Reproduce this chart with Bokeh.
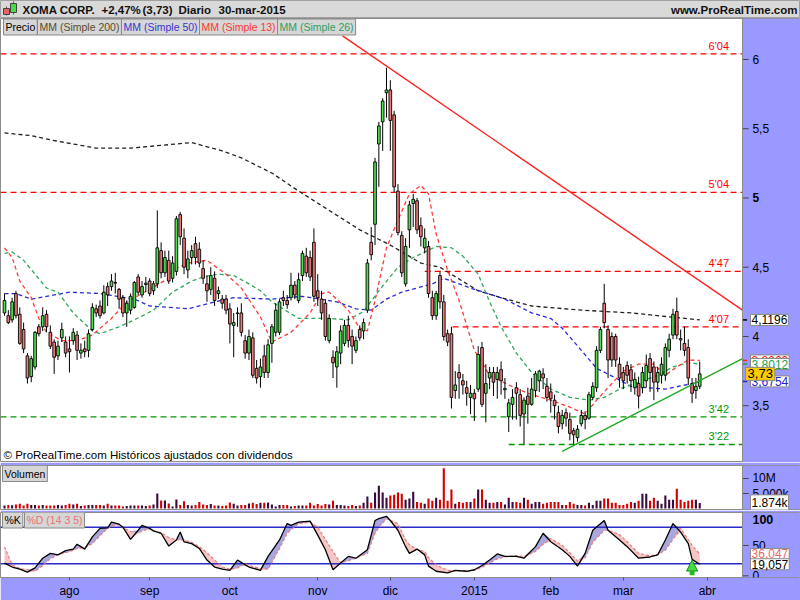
import numpy as np
import pandas as pd
from bokeh.plotting import figure
from bokeh.layouts import column
from bokeh.models import (Range1d, FixedTicker, Span, Label, ColumnDataSource, Arrow, NormalHead,
                          BoxAnnotation)
from bokeh.core.properties import value
from bokeh.embed import file_html
from bokeh.resources import INLINE

FONT = "Liberation Sans"

# ------------------------------------------------------------------ data
ticker_name = "XOMA CORP."
last_change = "+2,47%"
last_price_txt = "(3,73)"
period_txt = "Diario"
date_txt = "30-mar-2015"
site_txt = "www.ProRealTime.com"

first_day = "2014-07-09"
calendar_end = "2015-04-01"
market_holidays = ["2014-09-01", "2014-11-27", "2014-12-25", "2015-01-01", "2015-01-19", "2015-02-16"]
month_labels = ["ago", "sep", "oct", "nov", "dic", "2015", "feb", "mar", "abr"]

opens = [
    4.17, 4.15, 4.12, 4.31, 4.16, 4.05, 3.86, 3.71, 3.78, 4.07,
    4.07, 4.16, 4.03, 3.96, 3.86, 3.99, 3.96, 3.91, 3.97, 4.01,
    3.88, 3.91, 3.90, 4.05, 4.20, 4.22, 4.17, 4.36, 4.36, 4.39,
    4.34, 4.28, 4.17, 4.19, 4.21, 4.43, 4.30, 4.375, 4.40, 4.33,
    4.38, 4.62, 4.46, 4.55, 4.42, 4.47, 4.88, 4.71, 4.48, 4.57,
    4.67, 4.63, 4.49, 4.38, 4.34, 4.42, 4.31, 4.27, 4.27, 4.20,
    4.08, 4.165, 4.17, 3.97, 3.88, 3.99, 3.77, 3.71, 3.86, 3.74,
    3.95, 4.03, 4.03, 4.28, 4.26, 4.28, 4.37, 4.26, 4.44, 4.58,
    4.57, 4.68, 4.33, 4.27, 4.24, 3.97, 3.85, 3.78, 3.88, 3.95,
    4.08, 4.00, 3.90, 4.05, 4.04, 4.19, 4.68, 4.81, 5.39, 5.55,
    5.76, 5.78, 5.60, 5.05, 4.73, 4.38, 4.77, 4.96, 4.98, 4.80,
    4.64, 4.65, 4.28, 4.15, 4.44, 4.25, 4.02, 4.02, 3.61, 3.74,
    3.68, 3.63, 3.56, 3.59, 3.62, 3.92, 3.59, 3.70, 3.74, 3.69,
    3.76, 3.615, 3.42, 3.51, 3.63, 3.58, 3.44, 3.57, 3.51, 3.61,
    3.68, 3.73, 3.64, 3.60, 3.54, 3.45, 3.37, 3.45, 3.40, 3.32,
    3.27, 3.37, 3.43, 3.41, 3.56, 3.63, 3.90, 4.24, 4.05, 4.00,
    4.00, 3.80, 3.74, 3.79, 3.76, 3.63, 3.66, 3.63, 3.68, 3.84,
    3.78, 3.67, 3.72, 3.72, 3.90, 4.01, 4.18, 3.985, 3.95, 3.92,
    3.66, 3.61, 3.64]
highs = [
    4.31, 4.19, 4.28, 4.33, 4.21, 4.10, 3.88, 3.86, 4.04, 4.09,
    4.21, 4.19, 4.08, 3.98, 3.97, 4.10, 4.00, 4.00, 4.06, 4.04,
    3.95, 3.97, 4.05, 4.24, 4.23, 4.26, 4.37, 4.39, 4.45, 4.46,
    4.35, 4.30, 4.26, 4.31, 4.40, 4.45, 4.40, 4.43, 4.42, 4.40,
    4.91, 4.68, 4.62, 4.62, 4.58, 4.87, 4.90, 4.78, 4.62, 4.66,
    4.72, 4.68, 4.55, 4.44, 4.50, 4.47, 4.36, 4.30, 4.30, 4.24,
    4.17, 4.21, 4.24, 4.01, 4.05, 4.03, 3.83, 3.84, 3.94, 3.98,
    4.09, 4.24, 4.27, 4.33, 4.30, 4.46, 4.40, 4.46, 4.62, 4.64,
    4.62, 4.78, 4.45, 4.33, 4.27, 4.16, 3.90, 3.93, 4.08, 4.12,
    4.15, 4.05, 4.00, 4.08, 4.13, 4.56, 4.79, 5.29, 5.55, 5.72,
    5.94, 5.85, 5.63, 5.10, 4.76, 4.71, 4.98, 5.03, 5.00, 4.86,
    4.78, 4.69, 4.33, 4.33, 4.47, 4.30, 4.05, 4.07, 3.75, 3.80,
    3.73, 3.68, 3.65, 3.62, 3.93, 3.96, 3.80, 3.78, 3.78, 3.78,
    3.82, 3.70, 3.55, 3.62, 3.67, 3.62, 3.56, 3.63, 3.70, 3.75,
    3.76, 3.77, 3.70, 3.66, 3.58, 3.50, 3.47, 3.48, 3.45, 3.34,
    3.36, 3.47, 3.46, 3.60, 3.67, 3.93, 4.07, 4.38, 4.08, 4.03,
    4.02, 3.85, 3.78, 3.82, 3.80, 3.74, 3.71, 3.78, 3.87, 3.88,
    3.82, 3.78, 3.85, 3.95, 4.02, 4.20, 4.28, 4.05, 4.07, 3.98,
    3.70, 3.70, 3.82]
lows = [
    4.15, 4.09, 4.10, 4.13, 3.94, 3.88, 3.66, 3.67, 3.76, 4.00,
    4.04, 4.03, 3.91, 3.73, 3.83, 3.96, 3.85, 3.74, 3.94, 3.83,
    3.84, 3.85, 3.85, 4.04, 4.14, 4.13, 4.16, 4.22, 4.33, 4.31,
    4.20, 4.14, 4.07, 4.16, 4.20, 4.30, 4.28, 4.32, 4.29, 4.30,
    4.35, 4.42, 4.43, 4.38, 4.39, 4.44, 4.66, 4.45, 4.42, 4.52,
    4.52, 4.50, 4.38, 4.25, 4.30, 4.22, 4.27, 4.20, 4.16, 3.95,
    3.85, 4.07, 4.00, 3.84, 3.83, 3.70, 3.66, 3.63, 3.70, 3.70,
    3.81, 4.00, 4.01, 4.22, 4.20, 4.26, 4.27, 4.24, 4.40, 4.43,
    4.40, 4.25, 4.22, 4.12, 3.97, 3.95, 3.70, 3.63, 3.80, 3.93,
    3.92, 3.80, 3.88, 3.97, 3.98, 4.17, 4.55, 4.66, 5.08, 5.34,
    5.58, 5.34, 5.04, 4.73, 4.43, 4.36, 4.64, 4.79, 4.74, 4.65,
    4.60, 4.28, 4.12, 4.12, 4.20, 3.97, 3.93, 3.48, 3.55, 3.55,
    3.58, 3.50, 3.44, 3.39, 3.60, 3.49, 3.38, 3.62, 3.57, 3.55,
    3.58, 3.55, 3.31, 3.40, 3.40, 3.35, 3.22, 3.37, 3.50, 3.56,
    3.60, 3.62, 3.53, 3.45, 3.40, 3.30, 3.33, 3.35, 3.25, 3.21,
    3.24, 3.35, 3.33, 3.40, 3.54, 3.60, 3.88, 4.06, 3.70, 3.78,
    3.78, 3.63, 3.62, 3.66, 3.60, 3.58, 3.48, 3.59, 3.63, 3.60,
    3.54, 3.60, 3.66, 3.68, 3.85, 3.98, 3.98, 3.90, 3.86, 3.65,
    3.52, 3.55, 3.62]
closes = [
    4.26, 4.10, 4.25, 4.15, 3.95, 3.91, 3.70, 3.84, 4.03, 4.02,
    4.15, 4.07, 3.93, 3.85, 3.93, 4.05, 3.88, 3.89, 4.03, 3.90,
    3.90, 3.89, 4.02, 4.21, 4.17, 4.15, 4.32, 4.30, 4.40, 4.385,
    4.27, 4.17, 4.24, 4.29, 4.39, 4.32, 4.36, 4.385, 4.31, 4.38,
    4.64, 4.46, 4.57, 4.40, 4.53, 4.85, 4.72, 4.50, 4.56, 4.62,
    4.57, 4.53, 4.42, 4.33, 4.44, 4.26, 4.33, 4.24, 4.19, 4.09,
    4.10, 4.17, 4.03, 3.88, 4.00, 3.72, 3.70, 3.78, 3.74, 3.94,
    4.07, 4.19, 4.25, 4.26, 4.23, 4.37, 4.30, 4.41, 4.60, 4.46,
    4.43, 4.29, 4.28, 4.17, 4.00, 4.13, 3.81, 3.89, 4.04, 4.08,
    3.97, 3.93, 3.97, 3.99, 4.10, 4.53, 4.59, 5.26, 5.52, 5.70,
    5.78, 5.56, 5.08, 4.75, 4.46, 4.65, 4.95, 4.99, 4.77, 4.72,
    4.71, 4.31, 4.15, 4.31, 4.25, 4.00, 3.96, 3.56, 3.65, 3.70,
    3.65, 3.59, 3.59, 3.55, 3.87, 3.51, 3.66, 3.74, 3.67, 3.74,
    3.68, 3.625, 3.52, 3.56, 3.59, 3.43, 3.54, 3.51, 3.62, 3.73,
    3.75, 3.70, 3.56, 3.55, 3.50, 3.35, 3.43, 3.41, 3.30, 3.29,
    3.33, 3.43, 3.40, 3.58, 3.64, 3.90, 4.05, 4.10, 3.83, 3.83,
    3.83, 3.70, 3.68, 3.72, 3.68, 3.69, 3.57, 3.74, 3.79, 3.74,
    3.67, 3.74, 3.80, 3.92, 3.98, 4.16, 4.01, 3.975, 3.90, 3.70,
    3.59, 3.64, 3.73]
volume_m = [
    1.0, 1.2, 1.1, 1.3, 1.6, 1.0, 1.6, 1.2, 1.2, 1.0,
    1.2, 1.0, 1.0, 1.0, 1.2, 1.0, 1.2, 1.6, 1.3, 1.6,
    0.8, 1.0, 1.2, 1.2, 1.2, 1.2, 1.0, 1.6, 1.0, 1.0,
    1.0, 0.7, 0.8, 1.0, 1.0, 1.0, 1.0, 0.8, 1.0, 1.3,
    5.0, 2.7, 2.7, 1.7, 0.7, 3.0, 1.2, 2.4, 1.2, 1.0,
    1.2, 2.2, 1.3, 1.2, 1.5, 1.0, 1.0, 0.8, 1.0, 2.0,
    1.6, 1.0, 1.2, 1.2, 1.7, 1.9, 1.5, 1.9, 1.9, 2.0,
    1.3, 0.7, 1.2, 1.2, 1.2, 0.7, 0.8, 1.0, 1.0, 1.0,
    1.9, 1.0, 1.5, 1.0, 1.5, 1.3, 2.6, 1.2, 1.2, 1.0,
    0.8, 1.2, 0.8, 1.0, 1.9, 4.0, 1.9, 5.3, 7.6, 5.3,
    3.6, 4.3, 4.6, 5.3, 4.9, 2.9, 3.3, 5.6, 2.2, 1.9,
    1.6, 3.3, 2.6, 3.6, 2.9, 13.4, 2.6, 6.3, 1.6, 2.2,
    1.9, 2.2, 2.2, 3.3, 6.3, 6.3, 2.9, 1.9, 1.9, 2.2,
    2.2, 1.3, 3.6, 2.2, 2.2, 1.9, 3.6, 2.9, 1.6, 2.2,
    2.2, 1.6, 1.9, 2.2, 2.2, 2.2, 1.2, 1.2, 2.2, 1.6,
    1.2, 1.2, 1.0, 1.9, 1.2, 2.6, 2.6, 3.3, 3.3, 1.9,
    1.9, 1.2, 1.2, 1.6, 2.2, 1.9, 2.6, 4.9, 4.9, 2.6,
    3.6, 2.6, 1.6, 4.3, 2.9, 2.9, 6.6, 2.9, 2.2, 2.6,
    2.9, 2.9, 1.874]

# moving averages (bar index, value)
ma200_idx = [0, 7, 12, 24, 33, 41, 49, 57, 62, 70, 77, 85, 93, 101, 109, 114, 124, 130, 138, 151, 164, 182]
ma200_val = [5.47, 5.45, 5.42, 5.36, 5.36, 5.38, 5.40, 5.34, 5.29, 5.18, 5.05, 4.91, 4.77, 4.66, 4.53, 4.50,
             4.33, 4.28, 4.22, 4.19, 4.17, 4.1196]
ma50_idx = [0, 3, 7, 13, 17, 25, 34, 38, 48, 55, 60, 70, 78, 87, 92, 96, 100, 104, 112, 115,
            122, 131, 138, 143, 146, 151, 155, 160, 164, 173, 180, 182]
ma50_val = [4.31, 4.31, 4.27, 4.30, 4.32, 4.31, 4.27, 4.22, 4.20, 4.25, 4.28, 4.27, 4.29, 4.25, 4.20, 4.19,
            4.27, 4.32, 4.38, 4.42, 4.35, 4.27, 4.17, 4.13, 4.06, 3.90, 3.77, 3.70, 3.64, 3.62, 3.66, 3.6754]
ma13_idx = [0, 2, 4, 7, 9, 11, 15, 19, 23, 28, 32, 36, 43, 44, 48, 53, 58, 62, 67, 70,
            75, 80, 83, 85, 90, 93, 95, 97, 100, 103, 106, 109, 111, 113, 116, 119, 123, 127, 132, 137,
            143, 148, 152, 155, 159, 162, 166, 170, 173, 176, 179, 182]
ma13_val = [4.64, 4.57, 4.40, 4.28, 4.13, 4.03, 3.97, 3.97, 4.01, 4.13, 4.25, 4.31, 4.42, 4.48, 4.53, 4.55,
            4.45, 4.35, 4.14, 3.96, 4.03, 4.17, 4.31, 4.32, 4.19, 4.06, 4.04, 4.26, 4.64, 4.84, 5.03, 5.09,
            5.03, 4.74, 4.48, 4.26, 3.90, 3.72, 3.65, 3.59, 3.54, 3.49, 3.44, 3.54, 3.66, 3.75, 3.80, 3.80,
            3.72, 3.78, 3.83, 3.8269]
ma26_idx = [0, 2, 5, 8, 11, 14, 18, 23, 25, 30, 34, 39, 44, 49, 52, 56, 60, 64, 67, 70,
            77, 85, 90, 94, 98, 103, 107, 113, 117, 120, 124, 127, 130, 134, 138, 143, 148, 153, 157, 161,
            166, 171, 175, 179, 182]
ma26_val = [4.60, 4.61, 4.55, 4.45, 4.35, 4.32, 4.17, 4.04, 4.02, 4.07, 4.12, 4.19, 4.32, 4.40, 4.43, 4.45,
            4.44, 4.38, 4.33, 4.25, 4.13, 4.13, 4.12, 4.18, 4.33, 4.50, 4.57, 4.65, 4.64, 4.58, 4.45, 4.25,
            4.07, 3.88, 3.74, 3.62, 3.56, 3.54, 3.56, 3.62, 3.67, 3.72, 3.78, 3.81, 3.8012]

# horizontal support / resistance levels
level_values = [6.04, 5.04, 4.47, 4.07, 3.42, 3.22]
level_start = [-1.05, -1.05, 110, 117.3, -1.05, 132]
level_texts = ["6'04", "5'04", "4'47", "4'07", "3'42", "3'22"]
level_colors = ["#ff0000", "#ff0000", "#ff0000", "#ff0000", "#009900", "#009900"]

# trend lines (bar index, price)
red_trend_x = [88.5, 193.2]
red_trend_y = [6.17, 4.19]
green_trend_x = [146, 193.2]
green_trend_y = [3.17, 3.84]

# price / volume / oscillator scales
price_ticks = [3.5, 4, 4.5, 5, 5.5, 6]
price_tick_text = ["3,5", "4", "4,5", "5", "5,5", "6"]
price_tick_bold = [False, False, False, True, False, False]
vol_ticks = [5, 10]
vol_tick_text = ["5.000k", "10M"]
stoch_ticks = [0, 50, 100]
stoch_tick_text = ["0", "50", "100"]

# stochastic %K / %D (14 3 5)
stoch_idx = [0, 2, 4, 6, 8, 10, 12, 14, 16, 18, 19, 21, 23, 25, 27, 28, 30, 31, 33, 35,
             36, 38, 39, 41, 43, 45, 46, 47, 49, 51, 53, 55, 57, 59, 61, 63, 64, 67, 69, 72,
             74, 75, 77, 80, 82, 84, 86, 88, 90, 92, 95, 97, 98, 100, 101, 103, 105, 106, 108, 110,
             111, 113, 116, 118, 121, 123, 125, 127, 129, 131, 134, 136, 139, 141, 143, 146, 148, 150, 152, 154,
             157, 158, 161, 163, 166, 169, 171, 173, 175, 177, 179, 180, 182]
k_vals = [21, 14.5, 11, 6, 13, 29, 37, 34.5, 41.5, 44, 52, 44, 64, 78, 79, 88.5, 85, 80, 60, 75,
          83, 78, 74, 70, 49, 59, 72, 56, 53, 45, 26, 14.5, 11, 9, 26, 18, 14.5, 9, 32, 59,
          86, 83, 88.5, 90, 67, 43, 10, 21, 32, 29, 43, 91, 94, 98, 91, 75, 48, 37, 44, 34.5,
          16, 7.5, 5, 9, 7.5, 10, 17, 26, 36, 32, 32, 29, 48, 70, 56, 43, 32, 16, 37, 75,
          91, 75, 59, 48, 29, 31, 34.5, 59, 86, 72, 53, 27, 19.057]
d_vals = [48, 18, 12, 10, 7.5, 17, 28, 35, 38, 42, 45, 47, 53, 66, 78, 82, 84, 79, 73, 70,
          74, 77, 74, 71, 63, 59, 59, 59, 55, 48, 38, 26, 14.5, 11, 13, 20, 17, 12, 11, 45,
          70, 76, 86, 88, 80, 60, 40, 21, 25, 29, 37, 70, 80, 94, 91, 86, 59, 51, 43, 40,
          30, 18, 9, 8, 8, 9, 14, 21, 28, 31, 33, 32, 40, 52, 61.5, 50, 38, 24, 30, 55,
          75, 75, 68, 56, 37, 33, 35, 42, 60, 78, 59, 50, 36.047]
stoch_levels = [20, 80]
signal_idx = 180

# ------------------------------------------------------------------ derived
all_days = pd.bdate_range(first_day, calendar_end, freq="C", holidays=market_holidays)
month_ticks = [k for k in range(1, len(all_days)) if all_days[k].month != all_days[k - 1].month]
tick_labels = {int(t): lab for t, lab in zip(month_ticks, month_labels)}

o = np.array(opens); h = np.array(highs); l = np.array(lows); c = np.array(closes)
idx = np.arange(len(c))
up = c >= o

BG = "#9999ff"
W = 800
XMIN, XMAX = -1.047, 208.38     # visible bar-index span (incl. right price scale)
PANEL_EDGE = 193.2              # where the price scale begins
TICK_END = 194.8
LABEL_X = 195.8
BOX_X = 195.3


def base_fig(height, yr, top=0, bottom=0, xaxis=None):
    f = figure(width=W, height=height, x_range=Range1d(XMIN, XMAX), y_range=yr, x_axis_location=xaxis,
               y_axis_location=None, output_backend="svg", toolbar_location=None,
               min_border_left=0, min_border_right=0, min_border_top=top, min_border_bottom=bottom,
               border_fill_color=BG, outline_line_color="#8c8c8c", background_fill_color="white")
    f.grid.visible = False
    f.add_layout(BoxAnnotation(left=PANEL_EDGE, fill_color=BG, fill_alpha=1.0, line_color=None,
                               level="underlay"))
    f.add_layout(Span(location=PANEL_EDGE, dimension="height", line_color="#8c8c8c", line_width=1))
    return f


def scale_labels(fig, ticks, texts, bold=None, size="12px", y_offset=0):
    n = len(ticks)
    fig.segment(x0=[PANEL_EDGE] * n, y0=ticks, x1=[TICK_END] * n, y1=ticks,
                line_color="#444444", line_width=1)
    bold = bold or [False] * n
    for style in ("normal", "bold"):
        sel = [i for i in range(n) if (style == "bold") == bold[i]]
        if not sel:
            continue
        fig.text(x=[LABEL_X] * len(sel), y=[ticks[i] for i in sel], text=[texts[i] for i in sel],
                 text_font=value(FONT), text_font_size=size, text_font_style=style,
                 text_baseline="middle", text_color="black", y_offset=y_offset)


def button(fig, text, x, y, color="black"):
    fig.add_layout(Label(x=x, y=y, x_units="screen", y_units="screen", text=text,
                         text_font=FONT, text_font_size="10.5px", text_color=color,
                         text_baseline="middle", background_fill_color="#d6d6d6",
                         border_line_color="#8a8a8a", padding=2))


def value_box(fig, text, y, color, x=BOX_X, bg="white", tick_color=None, size="12px", pad=1):
    if tick_color:
        fig.segment(x0=[PANEL_EDGE], y0=[y], x1=[PANEL_EDGE + 1.2], y1=[y], line_color=tick_color,
                    line_width=1.5)
    fig.add_layout(Label(x=x, y=y, x_units="data", y_units="data", text=text,
                         text_font=FONT, text_font_size=size, text_color=color,
                         text_baseline="middle", background_fill_color=bg,
                         border_line_color="#8a8a8a", padding=pad))


# ------------------------------------------------------------------ header
hd = figure(width=W, height=18, x_range=Range1d(0, W), y_range=Range1d(0, 18),
            x_axis_location=None, y_axis_location=None, output_backend="svg", toolbar_location=None,
            min_border=0, background_fill_color="#d9d9d9", border_fill_color="#d9d9d9",
            outline_line_color="#a0a0a0")
hd.grid.visible = False
hd.segment([6, 13], [3, 4], [6, 13], [12, 17], line_color="#555555", line_width=1)
hd.quad(left=[3, 10], right=[9, 16], bottom=[4, 6], top=[10, 15],
        fill_color=["#e06666", "#44dd44"], line_color="#444444", line_width=1)
hd.text(x=[22, 101, 142, 178, 218], y=[9] * 5,
        text=[ticker_name, last_change, last_price_txt, period_txt, date_txt],
        text_font=value(FONT), text_font_size="11.5px", text_font_style="bold",
        text_baseline="middle", text_color="#111111")
hd.text(x=[W - 3], y=[9], text=[site_txt], text_font=value(FONT),
        text_font_size="11.5px", text_font_style="bold", text_align="right",
        text_baseline="middle", text_color="#111111")

# ------------------------------------------------------------------ price panel
p = base_fig(444, Range1d(3.090, 6.296))

p.segment(x0=level_start, y0=level_values, x1=[PANEL_EDGE] * len(level_values), y1=level_values,
          line_color=level_colors, line_dash="6 4", line_width=1.3)
p.text(x=[187] * len(level_values), y=level_values, text=level_texts, text_color=level_colors,
       text_font=value(FONT), text_font_size="11px", text_align="center",
       text_baseline="bottom", y_offset=-2)

p.line(ma200_idx, ma200_val, line_color="#222222", line_dash="4 3", line_width=1.3)
p.line(ma50_idx, ma50_val, line_color="#2a2ad8", line_dash="4 3", line_width=1.3)
p.line(ma26_idx, ma26_val, line_color="#2fa85a", line_dash="4 3", line_width=1.3)
p.line(ma13_idx, ma13_val, line_color="#ff3a3a", line_dash="4 3", line_width=1.3)

p.segment(x0=idx, y0=h, x1=idx, y1=l, line_color="black", line_width=1)
src_up = ColumnDataSource(dict(x=idx[up], top=c[up], bottom=o[up]))
src_dn = ColumnDataSource(dict(x=idx[~up], top=o[~up], bottom=c[~up]))
p.vbar(x="x", top="top", bottom="bottom", width=0.7, source=src_up,
       fill_color="#4fe04f", line_color="black", line_width=0.9)
p.vbar(x="x", top="top", bottom="bottom", width=0.7, source=src_dn,
       fill_color="#f07878", line_color="black", line_width=0.9)

p.line(red_trend_x, red_trend_y, line_color="#ff2222", line_width=1.4)
p.line(green_trend_x, green_trend_y, line_color="#22aa22", line_width=1.4)

scale_labels(p, price_ticks, price_tick_text, price_tick_bold)

button(p, "Precio", 3, 435.5)
button(p, "MM (Simple 200)", 37, 435.5, "#5a4a2a")
button(p, "MM (Simple 50)", 121, 435.5, "#3535d0")
button(p, "MM (Simple 13)", 199, 435.5, "#ff3535")
button(p, "MM (Simple 26)", 277, 435.5, "#2e9e5e")
p.add_layout(Label(x=3, y=2, x_units="screen", y_units="screen",
                   text="\u00a9 ProRealTime.com  Hist\u00f3ricos ajustados con dividendos",
                   text_font=FONT, text_font_size="11.5px", text_color="black"))

value_box(p, "4,1196", ma200_val[-1], "black", tick_color="black")
value_box(p, "3,8269", ma13_val[-1], "#ff2020", tick_color="#ff2020")
value_box(p, "3,8012", ma26_val[-1], "#1e9e4e", tick_color="#1e9e4e")
value_box(p, "3,6754", ma50_val[-1], "#2020d0", tick_color="#2020d0")
value_box(p, "3,73", closes[-1], "black", x=194.0, bg="#ffcc00", size="13px", pad=2)

# ------------------------------------------------------------------ volume panel
pv = base_fig(48, Range1d(-0.33, 14.33), top=3, bottom=1)
vol = np.array(volume_m)
pv.vbar(x=idx[up], top=vol[up], bottom=0, width=0.55, fill_color="#3a0a3a", line_color=None)
pv.vbar(x=idx[~up], top=vol[~up], bottom=0, width=0.55, fill_color="#d40000", line_color=None)
scale_labels(pv, vol_ticks, vol_tick_text)
button(pv, "Volumen", 2, 36)
value_box(pv, "1.874k", volume_m[-1], "black")

# ------------------------------------------------------------------ stochastic panel
ps = base_fig(90, Range1d(-2.76, 104.2), top=2, bottom=22, xaxis="below")
k = np.array(k_vals); d = np.array(d_vals)
ps.varea(x=stoch_idx, y1=d, y2=np.maximum(k, d), fill_color="#a3a3dd", fill_alpha=0.95)
ps.varea(x=stoch_idx, y1=np.minimum(k, d), y2=d, fill_color="#f6c2c2", fill_alpha=0.95)
ps.segment(x0=[XMIN] * len(stoch_levels), y0=stoch_levels, x1=[PANEL_EDGE] * len(stoch_levels),
           y1=stoch_levels, line_color="#2a2acc", line_width=1.5)
ps.line(stoch_idx, d, line_color="#ea7c7c", line_dash="3 2", line_width=1.2)
ps.line(stoch_idx, k, line_color="black", line_width=1.3)
k_sig = k[stoch_idx.index(signal_idx)]
ps.add_layout(Arrow(x_start=signal_idx, y_start=1, x_end=signal_idx, y_end=k_sig - 1,
                    line_color="#22bb22", line_width=5,
                    end=NormalHead(size=11, fill_color="#44dd44", line_color="#118811")))
scale_labels(ps, stoch_ticks[:2], stoch_tick_text[:2])
ps.text(x=[LABEL_X], y=[stoch_ticks[2]], text=[stoch_tick_text[2]], text_font=value(FONT),
        text_font_size="12.5px", text_font_style="bold", text_baseline="middle", y_offset=4)
button(ps, "%K", 2, 57.5)
button(ps, "%D (14 3 5)", 24, 57.5, "#ee7070")
value_box(ps, "36,047", d_vals[-1], "#ee6a6a")
value_box(ps, "19,057", k_vals[-1], "black")

xa = ps.xaxis[0]
xa.ticker = FixedTicker(ticks=month_ticks)
xa.major_label_overrides = tick_labels
xa.major_label_text_font = FONT
xa.major_label_text_font_size = "12px"
xa.major_label_text_color = "black"
xa.axis_line_color = None
xa.major_tick_in = 0
xa.major_tick_out = 3
xa.major_tick_line_color = "#555555"
xa.minor_tick_line_color = None
xa.major_label_standoff = 3

layout = column(hd, p, pv, ps, spacing=0)
open("out.html", "w").write(file_html(layout, INLINE))
